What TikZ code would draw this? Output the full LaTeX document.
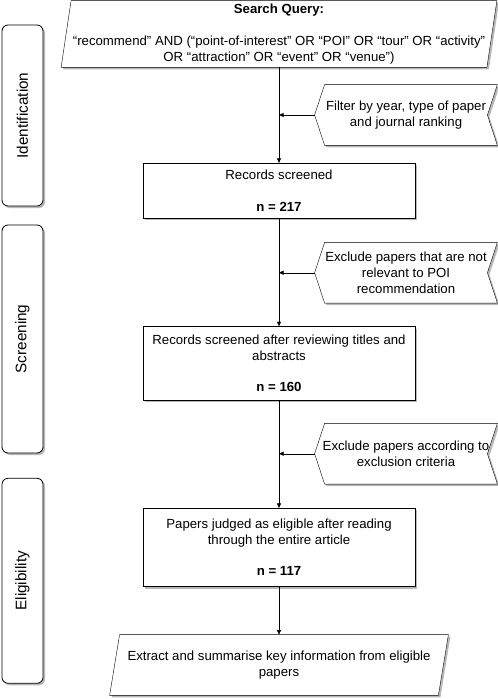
\documentclass[tikz,border=0pt]{standalone}
\usepackage{fontspec}
\setmainfont{Liberation Sans}
\usepackage{graphicx}
\usetikzlibrary{arrows.meta,shadows}
\pgfdeclarelayer{background}
\pgfsetlayers{background,main}
\begin{document}
\begin{tikzpicture}[x=1pt,y=-1pt,
  line width=0.8pt,
  txt/.style={font=\fontsize{13.2}{15.8}\selectfont, align=center, inner sep=0pt},
  shd/.style={drop shadow={shadow xshift=2pt,shadow yshift=-2pt,fill=black!28,opacity=1}},
  boxnode/.style={txt, draw, fill=white, shd, minimum width=272pt},
  outline/.style={draw, fill=white, shd, line join=miter},
  phase/.style={draw, fill=white, shd, rounded corners=6pt, minimum width=41pt, inner sep=0pt, font=\fontsize{15.3}{18}\selectfont},
  arr/.style={-{Triangle[length=4.5pt,width=4pt]}}
]
\useasboundingbox (0,0) rectangle (498,699);

% phase boxes
\node[phase, minimum height=181pt] (ph1) at (22.5,115.5) {\rotatebox{90}{Identification}};
\node[phase, minimum height=228pt] (ph2) at (22.5,339) {\rotatebox{90}{Screening}};
\node[phase, minimum height=205pt] (ph3) at (22.5,580.8) {\rotatebox{90}{Eligibility}};

% search query parallelogram
\node[txt, minimum width=435pt, minimum height=66pt] (q) at (279,34)
  {\textbf{Search Query:}\\[15.8pt]“recommend” AND (“point-of-interest” OR “POI” OR “tour” OR “activity”\\OR “attraction” OR “event” OR “venue”)};
% filter
\node[txt, minimum width=182pt, minimum height=60pt] (f) at (406,115)
  {Filter by year, type of paper\\and journal ranking};
% records
\node[boxnode, minimum height=55pt] (r1) at (279,190.8)
  {Records screened\\[15.8pt]\textbf{n = 217}};
% exclude 1
\node[txt, minimum width=182pt, minimum height=60pt] (e1) at (406,272.7)
  {Exclude papers that are not\\relevant to POI\\recommendation};
\node[boxnode, minimum height=73.3pt] (r2) at (279,363.3)
  {Records screened after reviewing titles and\\abstracts\\[15.8pt]\textbf{n = 160}};
% exclude 2
\node[txt, minimum width=182pt, minimum height=60pt] (e2) at (406,453.7)
  {Exclude papers according to\\exclusion criteria};
\node[boxnode, minimum height=78.4pt] (r3) at (279,547.5)
  {Papers judged as eligible after reading\\through the entire article\\[15.8pt]\textbf{n = 117}};
% final parallelogram
\node[txt, minimum width=338pt, minimum height=60pt] (p) at (279,665)
  {Extract and summarise key information from eligible\\papers};

\begin{pgfonlayer}{background}
\path[outline] ([xshift=10pt]q.north west) -- (q.north east) -- ([xshift=-10pt]q.south east) -- (q.south west) -- cycle;
\path[outline] ([xshift=10pt]p.north west) -- (p.north east) -- ([xshift=-10pt]p.south east) -- (p.south west) -- cycle;
\foreach \n in {f,e1,e2}{
  \path[outline] ([xshift=10pt]\n.north west) -- (\n.north east) -- ([xshift=-10pt]\n.east) -- (\n.south east) -- ([xshift=10pt]\n.south west) -- (\n.west) -- cycle;
}
\end{pgfonlayer}

% connectors
\coordinate (j1) at (f.west -| r1.north);
\coordinate (j2) at (e1.west -| r1.north);
\coordinate (j3) at (e2.west -| r1.north);
\draw[arr] (q.south) -- (r1.north);
\draw[arr] (f.west) -- (j1);
\draw[arr] (r1.south) -- (r2.north);
\draw[arr] (e1.west) -- (j2);
\draw[arr] (r2.south) -- (r3.north);
\draw[arr] (e2.west) -- (j3);
\draw[arr] (r3.south) -- (p.north);
\end{tikzpicture}
\end{document}
